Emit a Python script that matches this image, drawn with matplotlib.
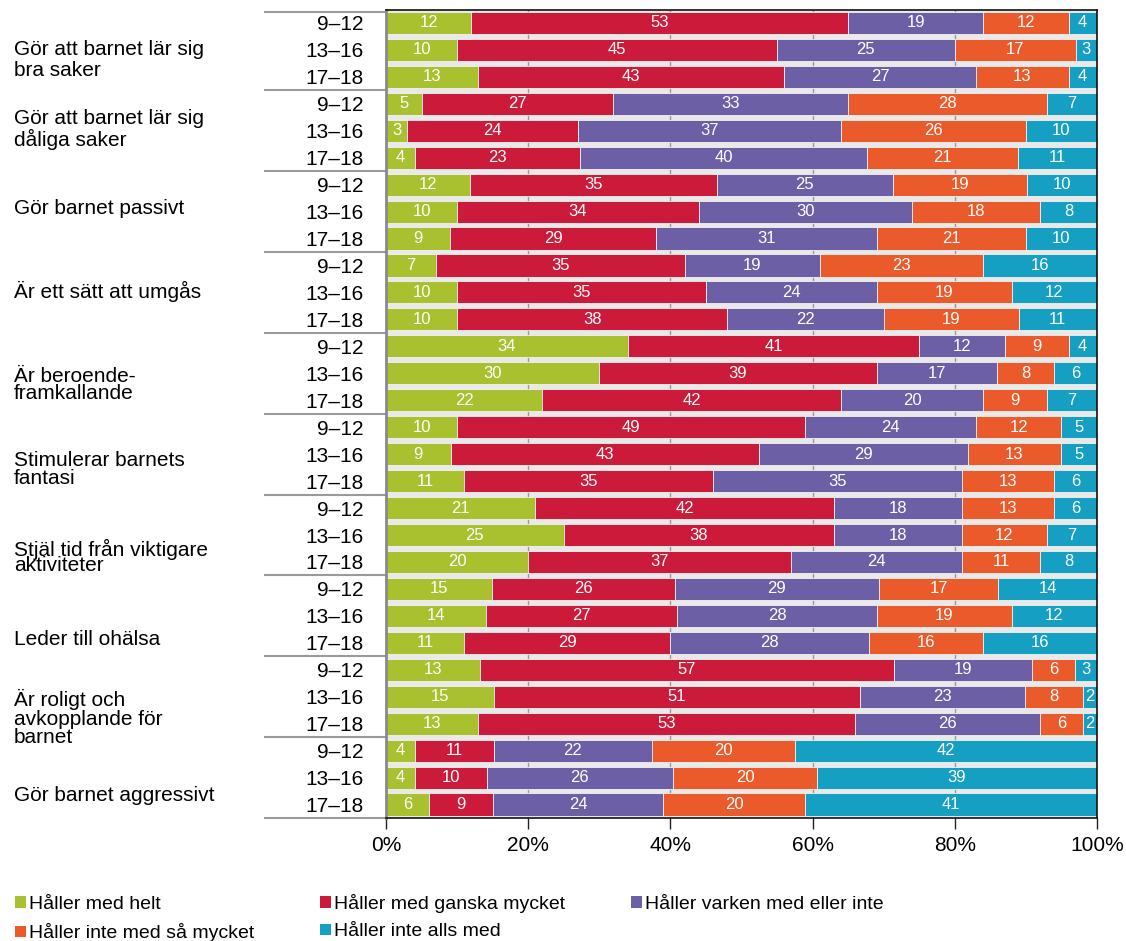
import matplotlib
matplotlib.use("Agg")
import matplotlib.pyplot as plt
from matplotlib.patches import Patch
import numpy as np

plt.rcParams['font.family'] = ['Liberation Sans', 'DejaVu Sans']

# Data
statements = [
    "Gör att barnet lär sig\nbra saker",
    "Gör att barnet lär sig\ndåliga saker",
    "Gör barnet passivt",
    "Är ett sätt att umgås",
    "Är beroende-\nframkallande",
    "Stimulerar barnets\nfantasi",
    "Stjäl tid från viktigare\naktiviteter",
    "Leder till ohälsa",
    "Är roligt och\navkopplande för\nbarnet",
    "Gör barnet aggressivt",
]
ages = ["9–12", "13–16", "17–18"]
categories = ["Håller med helt", "Håller med ganska mycket",
              "Håller varken med eller inte", "Håller inte med så mycket",
              "Håller inte alls med"]

helt = [12, 10, 13, 5, 3, 4, 12, 10, 9, 7, 10, 10, 34, 30, 22,
        10, 9, 11, 21, 25, 20, 15, 14, 11, 13, 15, 13, 4, 4, 6]
ganska = [53, 45, 43, 27, 24, 23, 35, 34, 29, 35, 35, 38, 41, 39, 42,
          49, 43, 35, 42, 38, 37, 26, 27, 29, 57, 51, 53, 11, 10, 9]
varken = [19, 25, 27, 33, 37, 40, 25, 30, 31, 19, 24, 22, 12, 17, 20,
          24, 29, 35, 18, 18, 24, 29, 28, 28, 19, 23, 26, 22, 26, 24]
inte_sa = [12, 17, 13, 28, 26, 21, 19, 18, 21, 23, 19, 19, 9, 8, 9,
           12, 13, 13, 13, 12, 11, 17, 19, 16, 6, 8, 6, 20, 20, 20]
inte_alls = [4, 3, 4, 7, 10, 11, 10, 8, 10, 16, 12, 11, 4, 6, 7,
             5, 5, 6, 6, 7, 8, 14, 12, 16, 3, 2, 2, 42, 39, 41]

colors = ["#a9c02f", "#cc1a3a", "#6c5fa5", "#ea5a2a", "#159fc2"]

# vertical placement / line spacing of the statement labels (row units)
label_rows = [1.37, 3.96, 6.89, 9.97, 13.42, 16.56, 19.80, 22.89, 25.79, 28.65]
label_spacing = [1.1, 1.06, 1, 1, 0.86, 0.96, 0.74, 1, 0.95, 1]

values = np.array([helt, ganska, varken, inte_sa, inte_alls], dtype=float)
pct = values / values.sum(axis=0) * 100
n_rows = values.shape[1]
y = np.arange(n_rows)

fig = plt.figure(figsize=(11.26, 9.41), dpi=100)
ax = fig.add_axes([0.3428, 0.1307, 0.9742 - 0.3428, 0.9894 - 0.1307])
ax.set_facecolor("#e9e9e9")

# grid lines behind bars
for gx in [20, 40, 60, 80]:
    ax.axvline(gx, color="#9a9a9a", lw=1, zorder=0)

left = np.zeros(n_rows)
for i in range(len(categories)):
    ax.barh(y, pct[i], left=left, height=0.82, color=colors[i],
            edgecolor="#f2f2f2", linewidth=0.6, label=categories[i], zorder=2)
    for r in range(n_rows):
        ax.text(left[r] + pct[i][r] / 2, r, f"{int(values[i][r])}",
                ha="center", va="center", color="white", fontsize=12, zorder=3)
    left += pct[i]

ax.set_xlim(0, 100)
ax.set_ylim(n_rows - 0.5, -0.48)
ax.set_xticks([0, 20, 40, 60, 80, 100])
ax.set_xticklabels(["0%", "20%", "40%", "60%", "80%", "100%"], fontsize=15)
ax.tick_params(axis="x", length=8, width=1, color="#222222", pad=5)
ax.set_yticks(y)
ax.set_yticklabels(ages * len(statements), fontsize=15)
ax.tick_params(axis="y", length=0, pad=16)

for side in ["top", "right", "bottom"]:
    ax.spines[side].set_color("#111111")
    ax.spines[side].set_linewidth(1.2)
ax.spines["left"].set_color("#8a8a8a")
ax.spines["left"].set_linewidth(2)

# group separators on the left
trans = ax.get_yaxis_transform()
for g in range(len(statements) + 1):
    yy = g * 3 - 0.5
    if g == 0:
        yy = -0.42
    ax.plot([-0.17, 0], [yy, yy], transform=trans, color="#9a9a9a",
            lw=1.5, clip_on=False, zorder=1)

for label, ry, ls in zip(statements, label_rows, label_spacing):
    ax.text(-0.523, ry, label, transform=trans, ha="left", va="center",
            fontsize=15, linespacing=ls)

handles = [Patch(facecolor=c, edgecolor="none") for c in colors]
order = [0, 3, 1, 4, 2]
fig.legend([handles[k] for k in order], [categories[k] for k in order],
           loc="lower left", bbox_to_anchor=(-0.002, -0.02), ncol=3,
           frameon=False, fontsize=14, handlelength=0.55, handleheight=0.55,
           handletextpad=0.15, columnspacing=3.4, labelspacing=0.55)

fig.savefig("out.png", dpi=100)
